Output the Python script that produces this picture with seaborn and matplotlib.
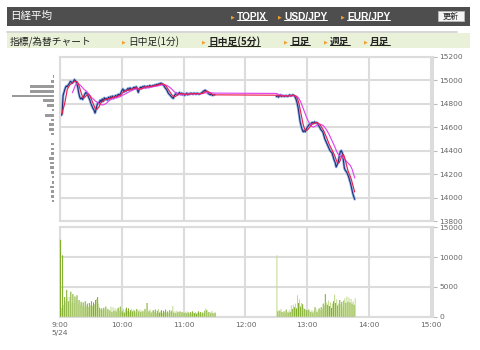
import numpy as np
import pandas as pd
import matplotlib
matplotlib.use("Agg")
import matplotlib.pyplot as plt
import seaborn as sns
from matplotlib.patches import Rectangle
from matplotlib.lines import Line2D

# ---------------- data ----------------
# 1-minute closes, morning session 9:00-11:30
am_close = [
    14730, 14700, 14710, 14870, 14900, 14930, 14950, 14945, 14960, 14970,
    14990, 14985, 14975, 14990, 15005, 14995, 14980, 14950, 14900, 14860,
    14840, 14850, 14835, 14860, 14880, 14895, 14890, 14870, 14850, 14830,
    14800, 14780, 14760, 14745, 14720, 14750, 14790, 14810, 14800, 14830,
    14815, 14840, 14820, 14850, 14835, 14845, 14830, 14855, 14840, 14860,
    14850, 14865, 14845, 14860, 14870, 14855, 14875, 14880, 14870, 14890,
    14910, 14925, 14900, 14915, 14905, 14920, 14930, 14915, 14935, 14920,
    14925, 14935, 14940, 14930, 14945, 14920, 14895, 14925, 14940, 14935,
    14945, 14940, 14950, 14935, 14945, 14950, 14940, 14955, 14950, 14945,
    14955, 14950, 14960, 14955, 14965, 14960, 14970, 14965, 14975, 14970,
    14960, 14950, 14935, 14925, 14910, 14890, 14880, 14870, 14860, 14850,
    14845, 14870, 14880, 14890, 14875, 14885, 14895, 14880, 14890, 14875,
    14885, 14870, 14880, 14890, 14875, 14885, 14880, 14890, 14885, 14880,
    14890, 14885, 14880, 14890, 14885, 14880, 14885, 14890, 14895, 14905,
    14910, 14915, 14905, 14895, 14885, 14880, 14875, 14880, 14870, 14875,
    14875,
]
# 1-minute closes, afternoon session from 12:30
pm_close = [
    14860, 14870, 14855, 14865, 14875, 14860, 14870, 14865, 14860, 14870,
    14865, 14860, 14870, 14875, 14865, 14870, 14875, 14870, 14860, 14840,
    14810, 14770, 14710, 14650, 14610, 14580, 14560, 14570, 14560, 14580,
    14600, 14610, 14625, 14620, 14635, 14640, 14630, 14645, 14635, 14640,
    14630, 14610, 14600, 14580, 14570, 14560, 14530, 14500, 14480, 14460,
    14440, 14420, 14400, 14390, 14380, 14350, 14320, 14300, 14260, 14280,
    14300, 14350, 14390, 14400, 14380, 14320, 14250, 14230, 14220, 14200,
    14180, 14150, 14120, 14080, 14040, 14010, 13985,
]
am_volume = [
    12900, 1500, 10300, 2000, 3300, 2600, 4500, 3300, 2600, 3300,
    4200, 2300, 3800, 2300, 3400, 2800, 3600, 2000, 2800, 2000,
    2500, 1800, 2400, 1700, 2600, 1800, 2200, 1600, 2300, 1900,
    2600, 1800, 2400, 2100, 2800, 3000, 3300, 2200, 1500, 1200,
    1400, 1100, 1500, 1200, 1700, 1000, 1300, 900, 1100, 1700,
    800, 1600, 1000, 1400, 900, 1300, 1500, 1000, 1700, 1200,
    900, 1300, 700, 1200, 1500, 1000, 1400, 800, 1100, 1300,
    900, 1200, 1000, 700, 1300, 1100, 900, 1200, 800, 1100,
    900, 1000, 1300, 700, 2300, 800, 1000, 1200, 700, 900,
    1100, 800, 1200, 600, 1000, 1300, 700, 900, 1100, 600,
    1000, 800, 1200, 700, 900, 600, 1100, 800, 1000, 1800,
    700, 900, 600, 1000, 800, 700, 900, 600, 800, 700,
    600, 800, 600, 900, 700, 500, 800, 600, 900, 700,
    600, 800, 500, 700, 900, 600, 800, 500, 700, 600,
    1000, 1400, 1100, 600, 800, 500, 700, 1000, 600, 500,
    700,
]
pm_volume = [
    10300, 900, 1100, 1000, 1300, 800, 600, 900, 700, 1200,
    800, 700, 1100, 800, 1900, 1300, 2000, 1600, 2200, 1400,
    3600, 2300, 2900, 1700, 2300, 2100, 1500, 1300, 1200, 1100,
    1000, 1200, 900, 800, 1100, 700, 1000, 1600, 1300, 800,
    1100, 1400, 1100, 1600, 1300, 2200, 1900, 3800, 2400, 2000,
    2700, 1800, 2400, 1500, 2200, 2600, 3700, 2300, 2900, 1900,
    2200, 2800, 2100, 2500, 1700, 2700, 3100, 2300, 3400, 2500,
    3200, 2400, 3000, 2200, 2600, 2000, 3100,
]
# volume-by-price profile (left side)
profile_price = [15030, 14990, 14945, 14905, 14865, 14825, 14785, 14745, 14700,
                 14660, 14620, 14580, 14540, 14500, 14455, 14415, 14375, 14335,
                 14295, 14255, 14215, 14175, 14130, 14090, 14050, 14010, 13970]
profile_volume = [1, 3, 24, 24, 42, 11, 7, 2, 9, 3, 5, 5, 3, 0, 3, 3, 3, 5, 4,
                  4, 3, 2, 2, 4, 3, 3, 2]

price_ticks = [13800, 14000, 14200, 14400, 14600, 14800, 15000, 15200]
volume_ticks = [0, 5000, 10000, 15000]
time_ticks = [0, 60, 120, 180, 240, 300, 360]
time_labels = ["9:00\n5/24", "10:00", "11:00", "12:00", "13:00", "14:00", "15:00"]
pm_start = 210

title = "日経平均"
header_links = ["TOPIX", "USD/JPY", "EUR/JPY"]
menu_title = "指標/為替チャート"
menu_items = ["日中足(1分)", "日中足(5分)", "日足", "週足", "月足"]
refresh = "更新"

# ---------------- styling ----------------
sns.set_theme(style="white")
plt.rcParams["font.family"] = ["DejaVu Sans", "Noto Sans CJK JP"]
CJK = ["Noto Sans CJK JP", "DejaVu Sans"]

W, H = 480, 350
fig = plt.figure(figsize=(W / 100, H / 100), dpi=100)
fig.patch.set_facecolor("white")


def fx(x):
    return x / W


def fy(y):
    return 1 - y / H


GRID = "#dcdcdc"
TICK_TXT = "#666666"

# axes
x_left, x_right = 60, 433
ax = fig.add_axes([fx(x_left), fy(221), (x_right - x_left) / W, (221 - 56.7) / H])
axv = fig.add_axes([fx(x_left), fy(316.7), (x_right - x_left) / W, (316.7 - 227.3) / H])
axp = fig.add_axes([fx(8.3), fy(221), (54.3 - 8.3) / W, (221 - 56.7) / H])

# data frame
am_t = np.arange(len(am_close))
pm_t = pm_start + np.arange(len(pm_close))
df = pd.DataFrame({
    "t": np.r_[am_t, pm_t],
    "close": am_close + pm_close,
    "volume": am_volume + pm_volume,
    "session": ["am"] * len(am_close) + ["pm"] * len(pm_close),
})
df["ma_short"] = df["close"].rolling(5, min_periods=1).mean()
df["ma_long"] = df["close"].rolling(13).mean()

# price panel
sns.lineplot(data=df, x="t", y="close", units="session", estimator=None,
             color="#8db0e2", lw=1.9, ax=ax, legend=False)
sns.lineplot(data=df, x="t", y="close", units="session", estimator=None,
             color="#1b2470", lw=0.7, ax=ax, legend=False)
sns.lineplot(data=df, x="t", y="ma_long", color="#e045f0", lw=0.85, ax=ax,
             legend=False)
sns.lineplot(data=df, x="t", y="ma_short", color="#e8224e", lw=0.85, ax=ax,
             legend=False)

# volume panel (alternating shades as in the 1-px rendering of the original)
bar_colors = ["#80ad2a" if i % 2 == 0 else "#c3dc90" for i in range(len(df))]
bars = axv.bar(df["t"] + 0.5, df["volume"], width=1.0, color=bar_colors,
               linewidth=0, zorder=3)
for b in bars:
    b.set_snap(False)

# volume-by-price profile
axp.barh(profile_price, profile_volume, height=22, color="#9a9a9a", linewidth=0)
axp.set_xlim(46, 0)
axp.set_ylim(13800, 15200)
axp.axis("off")

for a in (ax, axv):
    a.set_xlim(0, 362)
    a.set_xticks(time_ticks)
    a.grid(True, color=GRID, lw=1.5)
    a.set_axisbelow(True)
    a.set_xlabel("")
    a.set_ylabel("")
    for s in a.spines.values():
        s.set_color(GRID)
        s.set_linewidth(1.5)
    a.yaxis.tick_right()
    a.tick_params(axis="y", which="both", right=True, left=False, length=3,
                  width=0.8, color="#bbbbbb", labelsize=5.4,
                  labelcolor=TICK_TXT, pad=1.5)

ax.set_ylim(13800, 15200)
ax.set_yticks(price_ticks)
ax.set_yticklabels([str(v) for v in price_ticks])
ax.tick_params(axis="x", length=0, labelbottom=False)

axv.set_ylim(0, 15000)
axv.set_yticks(volume_ticks)
axv.set_yticklabels([str(v) for v in volume_ticks])
axv.set_xticklabels(time_labels, linespacing=1.25)
axv.tick_params(axis="x", length=0, labelsize=5.4, labelcolor=TICK_TXT, pad=4)
for lbl in axv.get_xticklabels():
    lbl.set_verticalalignment("top")

# ---------------- header ----------------
fig.add_artist(Rectangle((fx(7), fy(25.7)), 463 / W, 19 / H,
                         transform=fig.transFigure, color="#4e4e4e", lw=0))
fig.text(fx(10), fy(16.3), title, family=CJK, fontsize=7.6, color="white",
         va="center", ha="left")

underlines = []
for xpos, tri_x, s in zip([237, 284, 347], [231, 278, 341], header_links):
    fig.text(fx(tri_x), fy(16.5), "▶", fontsize=3.5, color="#f0a030",
             va="center", ha="left")
    t = fig.text(fx(xpos), fy(16.5), s, family=["Liberation Sans"],
                 fontweight="bold", fontsize=7.3, color="white",
                 va="center", ha="left")
    underlines.append((t, "white"))

fig.add_artist(Rectangle((fx(438), fy(20.7)), 26 / W, 9.7 / H,
                         transform=fig.transFigure, facecolor="#f4f4f4",
                         edgecolor="#bbbbbb", lw=0.6))
fig.text(fx(451), fy(16), refresh, family=CJK, fontsize=5.8, color="#222222",
         va="center", ha="center")

# menu bar
fig.add_artist(Line2D([fx(7), fx(457)], [fy(32.4), fy(32.4)],
                      transform=fig.transFigure, color="#cfcfcf", lw=1.2))
fig.add_artist(Rectangle((fx(7), fy(48.3)), 463 / W, 15 / H,
                         transform=fig.transFigure, color="#e9f2d8", lw=0))
fig.text(fx(9.5), fy(41.5), menu_title, family=CJK, fontsize=7.0,
         color="#222222", va="center", ha="left")
menu_x = [128, 208, 290, 330, 370]
for i, (xpos, s) in enumerate(zip(menu_x, menu_items)):
    fig.text(fx(xpos - 6), fy(41.5), "▶", fontsize=3.5, color="#f0a030",
             va="center", ha="left")
    link = i != 0
    t = fig.text(fx(xpos), fy(41.5), s, family=CJK, fontsize=7.0,
                 color="#222222", fontweight="bold" if link else "normal",
                 va="center", ha="left")
    if link:
        underlines.append((t, "#222222"))

fig.canvas.draw()
r = fig.canvas.get_renderer()
for t, c in underlines:
    bb = t.get_window_extent(r)
    yline = (bb.y0 + 1.2) / H
    fig.add_artist(Line2D([bb.x0 / W, bb.x1 / W], [yline, yline],
                          transform=fig.transFigure, color=c, lw=0.7))

fig.savefig("out.png", dpi=100, facecolor="white")
